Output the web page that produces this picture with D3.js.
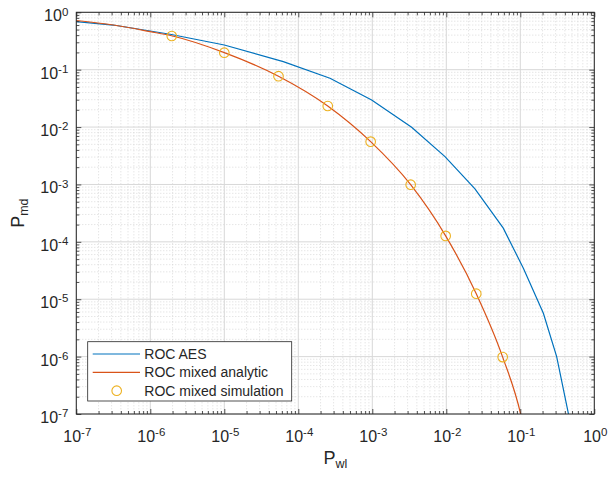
<!DOCTYPE html>
<html>
<head>
<meta charset="utf-8">
<script src="https://cdn.jsdelivr.net/npm/d3@7"></script>
<style>
  html, body { margin: 0; padding: 0; background: #ffffff; }
  svg { display: block; font-family: Arial, "Liberation Sans", Helvetica, sans-serif; }
</style>
</head>
<body>
<svg id="chart" width="609" height="477"></svg>
<script>
// ROC curves: probability of missed detection vs. probability of wrong lock
const xTickExps = [-7, -6, -5, -4, -3, -2, -1, 0];
const yTickExps = [-7, -6, -5, -4, -3, -2, -1, 0];

// ROC AES
const aesX = [1e-7, 3.16e-7, 1.85e-6, 1.0e-5, 6.27e-5, 2.68e-4, 9.8e-4, 3.4e-3, 9.6e-3, 0.0244, 0.0589, 0.110, 0.205, 0.31, 0.446, 0.52];
const aesY = [0.69, 0.60, 0.414, 0.269, 0.138, 0.0708, 0.0297, 9.9e-3, 3.05e-3, 8.35e-4, 1.73e-4, 3.47e-5, 5.7e-6, 1.0e-6, 1.03e-7, 2e-8];

// ROC mixed analytic
const analyticX = [1e-7, 3.16e-7, 1e-6, 2e-6, 1e-5, 5.4e-5, 2.5e-4, 9.5e-4, 3.3e-3, 9.8e-3, 0.0254, 0.0578, 0.101, 0.13];
const analyticY = [0.72, 0.60, 0.46, 0.386, 0.198, 0.077, 0.0233, 5.57e-3, 9.9e-4, 1.27e-4, 1.25e-5, 9.8e-7, 1e-7, 2e-8];

// ROC mixed simulation
const simX = [1.95e-6, 1.0e-5, 5.4e-5, 2.5e-4, 9.5e-4, 3.3e-3, 9.8e-3, 0.0254, 0.0578];
const simY = [0.386, 0.198, 0.077, 0.0233, 5.57e-3, 9.9e-4, 1.27e-4, 1.25e-5, 9.8e-7];

const legendLabels = ["ROC AES", "ROC mixed analytic", "ROC mixed simulation"];
const colors = ["#0072BD", "#D95319", "#EDB120"];

const margin = { left: 76.3, right: 609 - 594.3, top: 12.3, bottom: 477 - 414 };
const W = 609, H = 477;
const pw = W - margin.left - margin.right;
const ph = H - margin.top - margin.bottom;

const svg = d3.select("#chart");
const g = svg.append("g").attr("transform", `translate(${margin.left},${margin.top})`);

const x = d3.scaleLog().domain([1e-7, 1]).range([0, pw]);
const y = d3.scaleLog().domain([1e-7, 1]).range([ph, 0]);

// minor positions: 2..9 within each decade
const minorVals = [];
for (let e = -7; e < 0; e++) for (let k = 2; k <= 9; k++) minorVals.push(k * Math.pow(10, e));
const xMajor = xTickExps.map(e => Math.pow(10, e));
const yMajor = yTickExps.map(e => Math.pow(10, e));

// grids
const grid = g.append("g");
grid.selectAll("line.mx").data(minorVals).join("line")
  .attr("x1", d => x(d)).attr("x2", d => x(d)).attr("y1", 0).attr("y2", ph)
  .attr("stroke", "#d2d2d2").attr("stroke-width", 0.8).attr("stroke-dasharray", "1,2");
grid.selectAll("line.my").data(minorVals).join("line")
  .attr("y1", d => y(d)).attr("y2", d => y(d)).attr("x1", 0).attr("x2", pw)
  .attr("stroke", "#d2d2d2").attr("stroke-width", 0.8).attr("stroke-dasharray", "1,2");
grid.selectAll("line.Mx").data(xMajor).join("line")
  .attr("x1", d => x(d)).attr("x2", d => x(d)).attr("y1", 0).attr("y2", ph)
  .attr("stroke", "#d8d8d8").attr("stroke-width", 1);
grid.selectAll("line.My").data(yMajor).join("line")
  .attr("y1", d => y(d)).attr("y2", d => y(d)).attr("x1", 0).attr("x2", pw)
  .attr("stroke", "#d8d8d8").attr("stroke-width", 1);

// data
svg.append("defs").append("clipPath").attr("id", "plotclip")
  .append("rect").attr("width", pw).attr("height", ph);
const plot = g.append("g").attr("clip-path", "url(#plotclip)");

const lineAes = d3.line().x(d => x(d[0])).y(d => y(d[1]));
plot.append("path").datum(d3.zip(aesX, aesY))
  .attr("d", lineAes).attr("fill", "none").attr("stroke", colors[0]).attr("stroke-width", 1.2);

const lineAn = d3.line().x(d => x(d[0])).y(d => y(d[1])).curve(d3.curveMonotoneX);
plot.append("path").datum(d3.zip(analyticX, analyticY))
  .attr("d", lineAn).attr("fill", "none").attr("stroke", colors[1]).attr("stroke-width", 1.2);

plot.selectAll("circle.sim").data(d3.zip(simX, simY)).join("circle")
  .attr("cx", d => x(d[0])).attr("cy", d => y(d[1])).attr("r", 4.8)
  .attr("fill", "none").attr("stroke", colors[2]).attr("stroke-width", 1.1);

// axes with inward ticks on all four sides
const axisColor = "#262626";
function tickFmt(sel) {
  sel.each(function(d) {
    const e = Math.round(Math.log10(d));
    const t = d3.select(this);
    t.text(null);
    t.append("tspan").text("10");
    t.append("tspan").attr("dy", "-0.5em").attr("font-size", "11.5px").text(e);
  });
}

const axes = [
  g.append("g").attr("transform", `translate(0,${ph})`).call(d3.axisBottom(x).tickValues(xMajor).tickSize(-5).tickFormat(() => "")),
  g.append("g").call(d3.axisTop(x).tickValues(xMajor).tickSize(-5).tickFormat(() => "")),
  g.append("g").call(d3.axisLeft(y).tickValues(yMajor).tickSize(-5).tickFormat(() => "")),
  g.append("g").attr("transform", `translate(${pw},0)`).call(d3.axisRight(y).tickValues(yMajor).tickSize(-5).tickFormat(() => "")),
  g.append("g").attr("transform", `translate(0,${ph})`).call(d3.axisBottom(x).tickValues(minorVals).tickSize(-3).tickFormat(() => "")),
  g.append("g").call(d3.axisTop(x).tickValues(minorVals).tickSize(-3).tickFormat(() => "")),
  g.append("g").call(d3.axisLeft(y).tickValues(minorVals).tickSize(-3).tickFormat(() => "")),
  g.append("g").attr("transform", `translate(${pw},0)`).call(d3.axisRight(y).tickValues(minorVals).tickSize(-3).tickFormat(() => ""))
];
axes.forEach(a => {
  a.selectAll("path.domain").remove();
  a.selectAll("line").attr("stroke", axisColor).attr("stroke-width", 0.8);
});

// box
g.append("rect").attr("width", pw).attr("height", ph)
  .attr("fill", "none").attr("stroke", axisColor).attr("stroke-width", 1);

// tick labels
g.append("g").selectAll("text").data(xMajor).join("text")
  .attr("x", d => x(d) + 1).attr("y", ph + 28)
  .attr("text-anchor", "middle").attr("font-size", "16px").attr("fill", axisColor)
  .call(tickFmt);
g.append("g").selectAll("text").data(yMajor).join("text")
  .attr("x", -8).attr("y", d => y(d) + 9)
  .attr("text-anchor", "end").attr("font-size", "16px").attr("fill", axisColor)
  .call(tickFmt);

// axis labels
const xl = svg.append("text").attr("x", margin.left + pw / 2).attr("y", 464)
  .attr("text-anchor", "middle").attr("font-size", "18px").attr("fill", axisColor);
xl.append("tspan").text("P");
xl.append("tspan").attr("dy", "0.3em").attr("font-size", "12.5px").text("wl");

const yl = svg.append("text").attr("transform", `translate(24,${margin.top + ph / 2}) rotate(-90)`)
  .attr("text-anchor", "middle").attr("font-size", "18px").attr("fill", axisColor);
yl.append("tspan").text("P");
yl.append("tspan").attr("dy", "0.3em").attr("font-size", "12.5px").text("md");

// legend
const lg = svg.append("g").attr("transform", "translate(87.7,341.7)");
lg.append("rect").attr("width", 204).attr("height", 59.3)
  .attr("fill", "#ffffff").attr("stroke", axisColor).attr("stroke-width", 0.8);
const rowY = [12.3, 30.6, 49];
legendLabels.forEach((lab, i) => {
  if (i < 2) {
    lg.append("line").attr("x1", 5).attr("x2", 52.3).attr("y1", rowY[i]).attr("y2", rowY[i])
      .attr("stroke", colors[i]).attr("stroke-width", 1.2);
  } else {
    lg.append("circle").attr("cx", 29).attr("cy", rowY[i]).attr("r", 4.8)
      .attr("fill", "none").attr("stroke", colors[i]).attr("stroke-width", 1.1);
  }
  lg.append("text").attr("x", 56.6).attr("y", rowY[i] + 5)
    .attr("font-size", "14px").attr("fill", axisColor).text(lab);
});
</script>
</body>
</html>
